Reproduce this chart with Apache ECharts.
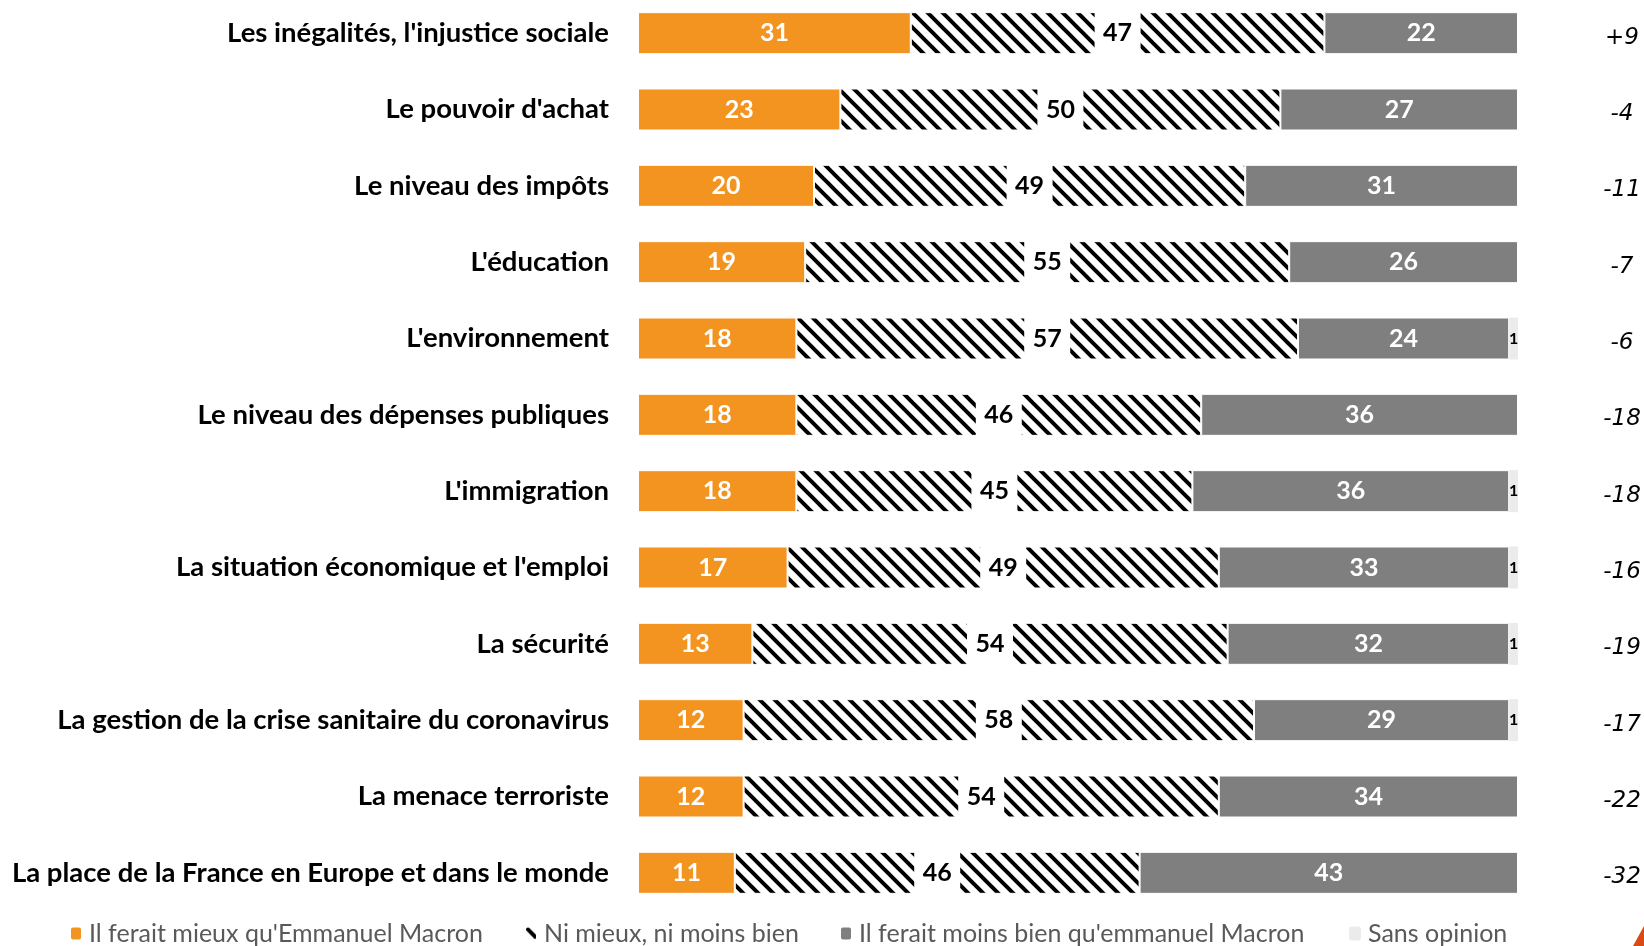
<!DOCTYPE html>
<html>
<head>
<meta charset="utf-8">
<script src="https://cdn.jsdelivr.net/npm/echarts@6/dist/echarts.min.js"></script>
<style>
html,body{margin:0;padding:0;background:#fff;}
#c{width:1644px;height:946px;}
</style>
</head>
<body>
<div id="c"></div>
<script>
const categories = [
  "Les inégalités, l'injustice sociale",
  "Le pouvoir d'achat",
  "Le niveau des impôts",
  "L'éducation",
  "L'environnement",
  "Le niveau des dépenses publiques",
  "L'immigration",
  "La situation économique et l'emploi",
  "La sécurité",
  "La gestion de la crise sanitaire du coronavirus",
  "La menace terroriste",
  "La place de la France en Europe et dans le monde"
];
const mieux = [31, 23, 20, 19, 18, 18, 18, 17, 13, 12, 12, 11];
const niMieuxNiMoins = [47, 50, 49, 55, 57, 46, 45, 49, 54, 58, 54, 46];
const moinsBien = [22, 27, 31, 26, 24, 36, 36, 33, 32, 29, 34, 43];
const sansOpinion = [0, 0, 0, 0, 1, 0, 1, 1, 1, 1, 0, 0];
const solde = ["+9", "-4", "-11", "-7", "-6", "-18", "-18", "-16", "-19", "-17", "-22", "-32"];
const seriesNames = [
  "Il ferait mieux qu'Emmanuel Macron",
  "Ni mieux, ni moins bien",
  "Il ferait moins bien qu'emmanuel Macron",
  "Sans opinion"
];

function makeHatch() {
  const s = 15;
  const c = document.createElement('canvas');
  c.width = s; c.height = s;
  const g = c.getContext('2d');
  g.fillStyle = '#fff';
  g.fillRect(0, 0, s, s);
  g.strokeStyle = '#000';
  g.lineWidth = 4;
  g.beginPath();
  for (let k = -1; k <= 1; k++) {
    g.moveTo(-s, -s + k * s);
    g.lineTo(2 * s, 2 * s + k * s);
  }
  g.stroke();
  return c;
}
const hatch = makeHatch();

const FONT = 'Lato, "Open Sans", sans-serif';
const chart = echarts.init(document.getElementById('c'), null, {renderer: 'canvas'});

const whiteLabel = {
  show: true, position: 'inside', color: '#fff', fontFamily: FONT,
  fontWeight: 'bold', fontSize: 25
};

const legendCommon = {
  orient: 'horizontal', top: 921, padding: 0, itemWidth: 12, itemHeight: 14, itemGap: 0,
  textStyle: {color: '#595959', fontSize: 25, fontFamily: FONT, padding: [0, 0, 0, 2]},
  selectedMode: false
};

chart.setOption({
  animation: false,
  backgroundColor: '#fff',
  grid: {left: 638, right: 126, top: -5, height: 916, containLabel: false, outerBoundsMode: 'none'},
  xAxis: {type: 'value', min: 0, max: 100, show: false},
  yAxis: [
    {
      type: 'category', data: categories, inverse: true,
      axisLine: {show: false}, axisTick: {show: false},
      axisLabel: {color: '#000', fontFamily: FONT, fontWeight: 'bold', fontSize: 27.5, margin: 29}
    },
    {
      type: 'category', data: solde, inverse: true, position: 'right',
      axisLine: {show: false}, axisTick: {show: false},
      axisLabel: {
        margin: 104, align: 'center',
        formatter: v => '{s|' + v + '}',
        rich: {s: {color: '#000', fontFamily: '"DejaVu Sans"', fontStyle: 'italic', fontSize: 23,
          padding: [9, 0, 0, 0]}}
      }
    }
  ],
  legend: [
    Object.assign({}, legendCommon, {left: 69, data: [seriesNames[0]]}),
    Object.assign({}, legendCommon, {left: 524, data: [seriesNames[1]]}),
    Object.assign({}, legendCommon, {left: 839, data: [seriesNames[2]]}),
    Object.assign({}, legendCommon, {left: 1349, data: [seriesNames[3]]})
  ],
  series: [
    {
      name: seriesNames[0], type: 'bar', stack: 'total', data: mieux, barWidth: 42,
      itemStyle: {color: '#f39320', borderColor: '#fff', borderWidth: 1},
      label: whiteLabel
    },
    {
      name: seriesNames[1], type: 'bar', stack: 'total', data: niMieuxNiMoins, barWidth: 42,
      itemStyle: {color: {image: hatch, repeat: 'repeat'}, borderColor: '#fff', borderWidth: 1},
      label: {
        show: true, position: 'inside', color: '#000', fontFamily: FONT, fontWeight: 'bold', fontSize: 25,
        backgroundColor: '#fff', width: 40, height: 43, lineHeight: 43, padding: [0, 3], align: 'center'
      }
    },
    {
      name: seriesNames[2], type: 'bar', stack: 'total', data: moinsBien, barWidth: 42,
      itemStyle: {color: '#7f7f7f', borderColor: '#fff', borderWidth: 1},
      label: whiteLabel
    },
    {
      name: seriesNames[3], type: 'bar', stack: 'total', data: sansOpinion, barWidth: 42,
      itemStyle: {color: '#ebebeb'},
      label: {
        show: true, position: 'inside', color: '#000', fontFamily: FONT, fontWeight: 'bold', fontSize: 16,
        formatter: p => (p.value ? String(p.value) : '')
      }
    }
  ],
  graphic: [
    {type: 'polygon', shape: {points: [[1644, 926], [1633, 946], [1644, 946]]}, style: {fill: '#d94a14'}}
  ]
});
</script>
</body>
</html>
